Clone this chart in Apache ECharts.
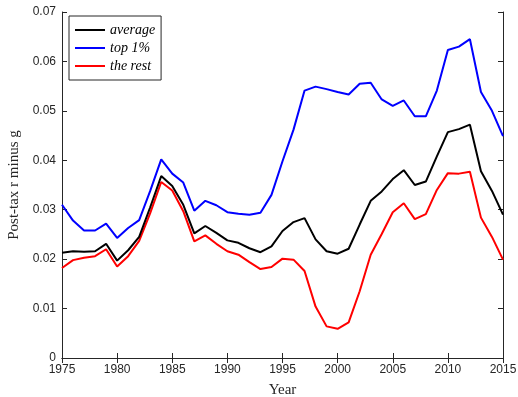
<!DOCTYPE html>
<html>
<head>
<meta charset="utf-8">
<script src="https://cdn.jsdelivr.net/npm/echarts@6/dist/echarts.min.js"></script>
<style>
  html, body { margin: 0; padding: 0; background: #fff; }
  #chart { width: 518px; height: 397px; }
</style>
</head>
<body>
<div id="chart"></div>
<script>
const years = [];
for (let y = 1975; y <= 2015; y++) years.push(y);

const average = [0.0213, 0.0216, 0.0215, 0.0216, 0.0231, 0.0197, 0.0218, 0.0245, 0.0305, 0.0368,
  0.0348, 0.0310, 0.0252, 0.0267, 0.0253, 0.0238, 0.0233, 0.0222, 0.0214, 0.0226,
  0.0257, 0.0275, 0.0283, 0.0240, 0.0216, 0.0211, 0.0221, 0.0270, 0.0318, 0.0337,
  0.0362, 0.0380, 0.0350, 0.0357, 0.0408, 0.0457, 0.0463, 0.0472, 0.0378, 0.0338, 0.0290];

const top1 = [0.0310, 0.0278, 0.0258, 0.0258, 0.0272, 0.0243, 0.0263, 0.0279, 0.0338, 0.0402,
  0.0373, 0.0355, 0.0298, 0.0318, 0.0309, 0.0295, 0.0292, 0.0290, 0.0294, 0.0330,
  0.0398, 0.0462, 0.0541, 0.0549, 0.0544, 0.0538, 0.0533, 0.0555, 0.0557, 0.0523,
  0.0510, 0.0521, 0.0489, 0.0489, 0.0541, 0.0623, 0.0630, 0.0645, 0.0538, 0.0500, 0.0449];

const theRest = [0.0182, 0.0198, 0.0203, 0.0206, 0.0220, 0.0185, 0.0206, 0.0237, 0.0293, 0.0356,
  0.0339, 0.0297, 0.0236, 0.0248, 0.0231, 0.0216, 0.0209, 0.0194, 0.0180, 0.0184,
  0.0201, 0.0199, 0.0176, 0.0104, 0.0064, 0.0059, 0.0072, 0.0135, 0.0209, 0.0251,
  0.0295, 0.0313, 0.0281, 0.0291, 0.0340, 0.0374, 0.0373, 0.0377, 0.0284, 0.0245, 0.0199];

const seriesNames = ['average', 'top 1%', 'the rest'];
const seriesColors = ['#000000', '#0000ff', '#ff0000'];

const chart = echarts.init(document.getElementById('chart'), null, { renderer: 'canvas' });

const tickFont = { color: '#262626', fontSize: 12, fontFamily: 'Liberation Sans, Arial, sans-serif' };
const axisLine = { show: true, lineStyle: { color: '#262626', width: 1 } };
const ticksIn = { show: true, inside: true, length: 5, lineStyle: { color: '#262626' } };

function toPairs(arr) { return arr.map((v, i) => [years[i], v]); }

chart.setOption({
  animation: false,
  backgroundColor: '#fff',
  grid: { left: 62, right: 15, top: 12, bottom: 39, outerBoundsMode: 'none', containLabel: false },
  legend: {
    left: 69, top: 16,
    orient: 'vertical',
    icon: 'rect',
    itemWidth: 30, itemHeight: 2,
    itemGap: 4,
    padding: [7, 6, 7, 6],
    borderColor: '#262626', borderWidth: 1,
    backgroundColor: '#fff',
    textStyle: { fontFamily: 'Liberation Serif, DejaVu Serif, serif', fontStyle: 'italic', fontSize: 14, color: '#000' },
    data: seriesNames
  },
  xAxis: [{
    type: 'value', min: 1975, max: 2015, interval: 5,
    name: 'Year', nameLocation: 'center', nameGap: 25,
    nameTextStyle: { fontFamily: 'Liberation Serif, DejaVu Serif, serif', fontSize: 15, color: '#262626' },
    axisLine: axisLine, axisTick: ticksIn,
    axisLabel: Object.assign({ margin: 6, formatter: v => String(v) }, tickFont),
    splitLine: { show: false }
  }, {
    type: 'value', min: 1975, max: 2015, interval: 5, position: 'top',
    axisLine: axisLine, axisTick: ticksIn, axisLabel: { show: false }, splitLine: { show: false }
  }],
  yAxis: [{
    type: 'value', min: 0, max: 0.07, interval: 0.01,
    name: 'Post-tax r minus g', nameLocation: 'center', nameGap: 37,
    nameTextStyle: { fontFamily: 'Liberation Serif, DejaVu Serif, serif', fontSize: 15, color: '#262626' },
    axisLine: axisLine, axisTick: ticksIn,
    axisLabel: Object.assign({ margin: 6, formatter: v => (v === 0 ? '0' : v.toFixed(2)) }, tickFont),
    splitLine: { show: false }
  }, {
    type: 'value', min: 0, max: 0.07, interval: 0.01, position: 'right',
    axisLine: axisLine, axisTick: ticksIn, axisLabel: { show: false }, splitLine: { show: false }
  }],
  series: [average, top1, theRest].map((arr, i) => ({
    name: seriesNames[i],
    type: 'line',
    data: toPairs(arr),
    showSymbol: false,
    color: seriesColors[i],
    lineStyle: { color: seriesColors[i], width: 2 },
    z: 3 - i
  }))
});
</script>
</body>
</html>
